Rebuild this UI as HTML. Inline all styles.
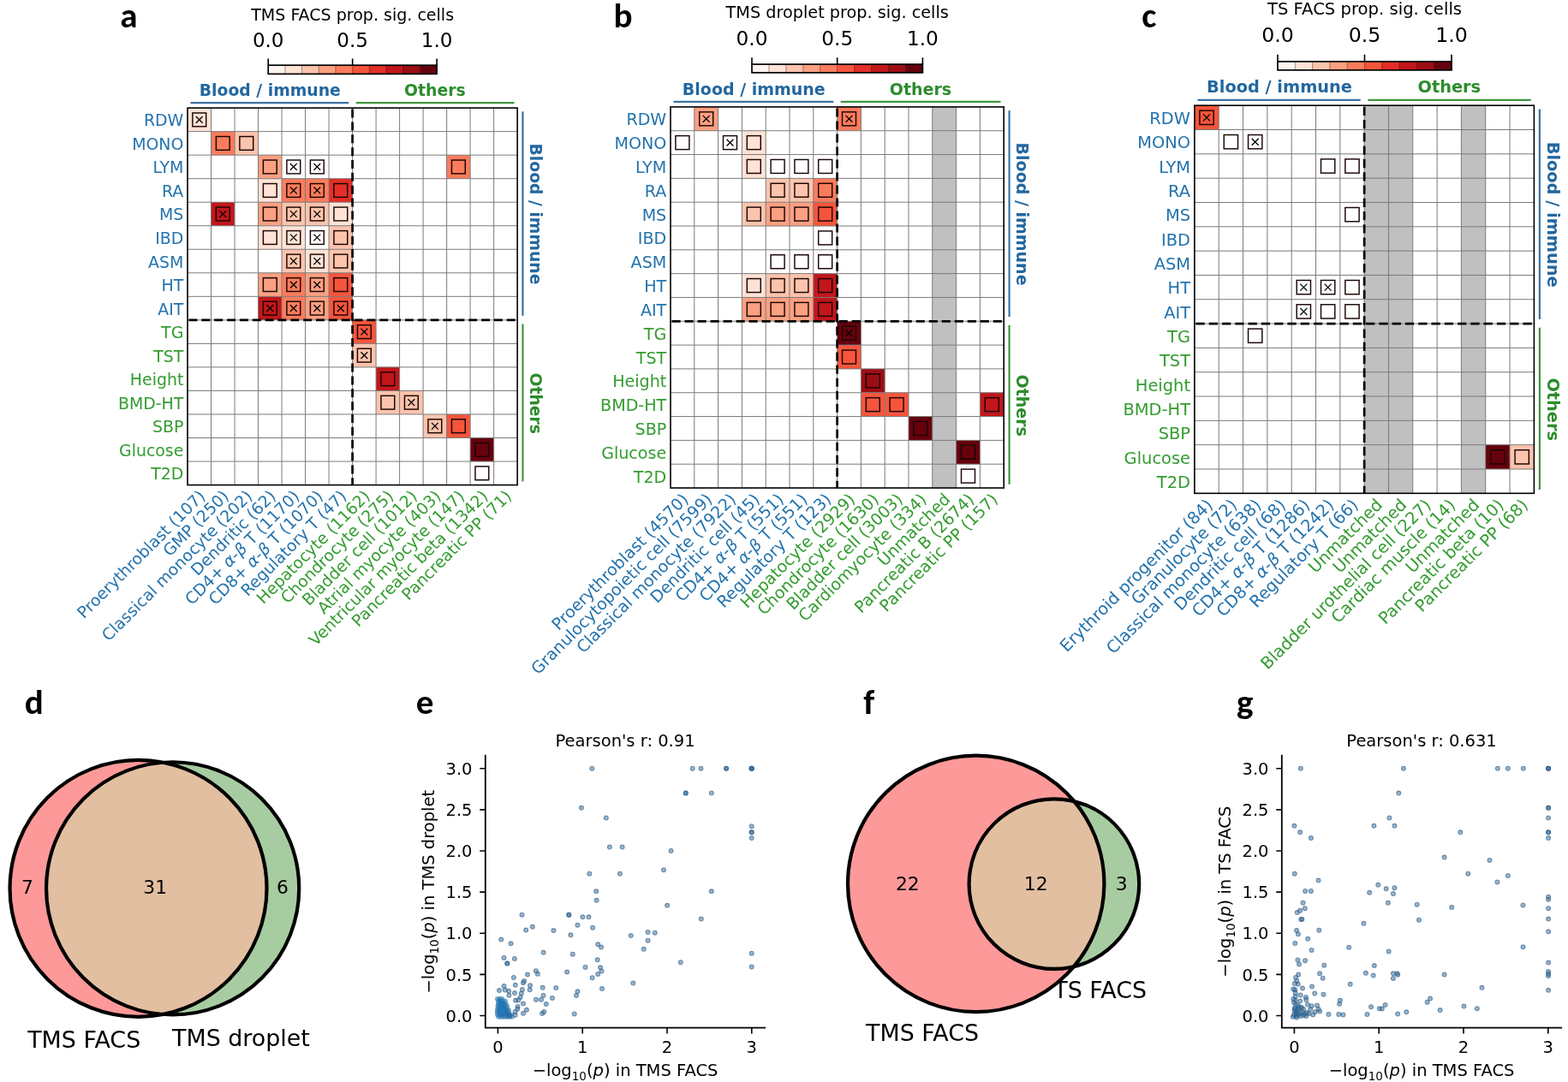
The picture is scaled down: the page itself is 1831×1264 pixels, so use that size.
<!DOCTYPE html>
<html><head><meta charset="utf-8"><style>html,body{margin:0;padding:0;background:#fff;}svg{display:block;}</style></head><body>
<svg width="1831" height="1264" viewBox="0 0 1831 1264" font-family="'DejaVu Sans', 'Liberation Sans', sans-serif">
<rect width="1831" height="1264" fill="#fff"/>
<rect x="219" y="126.1" width="27.51" height="27.53" fill="#fee3d6"/>
<rect x="246.51" y="153.63" width="27.51" height="27.53" fill="#fb7c5c"/>
<rect x="274.02" y="153.63" width="27.51" height="27.53" fill="#fcc4ad"/>
<rect x="301.53" y="181.16" width="27.51" height="27.53" fill="#fca082"/>
<rect x="521.61" y="181.16" width="27.51" height="27.53" fill="#fb7c5c"/>
<rect x="301.53" y="208.69" width="27.51" height="27.53" fill="#fee3d6"/>
<rect x="329.04" y="208.69" width="27.51" height="27.53" fill="#fb7c5c"/>
<rect x="356.55" y="208.69" width="27.51" height="27.53" fill="#fb7c5c"/>
<rect x="384.06" y="208.69" width="27.51" height="27.53" fill="#e32f27"/>
<rect x="246.51" y="236.22" width="27.51" height="27.53" fill="#c2161b"/>
<rect x="301.53" y="236.22" width="27.51" height="27.53" fill="#fca082"/>
<rect x="329.04" y="236.22" width="27.51" height="27.53" fill="#fcc4ad"/>
<rect x="356.55" y="236.22" width="27.51" height="27.53" fill="#fcc4ad"/>
<rect x="384.06" y="236.22" width="27.51" height="27.53" fill="#fee3d6"/>
<rect x="301.53" y="263.75" width="27.51" height="27.53" fill="#fee3d6"/>
<rect x="329.04" y="263.75" width="27.51" height="27.53" fill="#fee3d6"/>
<rect x="384.06" y="263.75" width="27.51" height="27.53" fill="#fcc4ad"/>
<rect x="329.04" y="291.28" width="27.51" height="27.53" fill="#fcc4ad"/>
<rect x="356.55" y="291.28" width="27.51" height="27.53" fill="#fee3d6"/>
<rect x="384.06" y="291.28" width="27.51" height="27.53" fill="#fcc4ad"/>
<rect x="301.53" y="318.81" width="27.51" height="27.53" fill="#fca082"/>
<rect x="329.04" y="318.81" width="27.51" height="27.53" fill="#fb7c5c"/>
<rect x="356.55" y="318.81" width="27.51" height="27.53" fill="#fca082"/>
<rect x="384.06" y="318.81" width="27.51" height="27.53" fill="#f6553c"/>
<rect x="301.53" y="346.34" width="27.51" height="27.53" fill="#c2161b"/>
<rect x="329.04" y="346.34" width="27.51" height="27.53" fill="#fb7c5c"/>
<rect x="356.55" y="346.34" width="27.51" height="27.53" fill="#fca082"/>
<rect x="384.06" y="346.34" width="27.51" height="27.53" fill="#f6553c"/>
<rect x="411.57" y="373.87" width="27.51" height="27.53" fill="#f6553c"/>
<rect x="411.57" y="401.4" width="27.51" height="27.53" fill="#fcc4ad"/>
<rect x="439.08" y="428.93" width="27.51" height="27.53" fill="#c2161b"/>
<rect x="439.08" y="456.46" width="27.51" height="27.53" fill="#fcc4ad"/>
<rect x="466.59" y="456.46" width="27.51" height="27.53" fill="#fcc4ad"/>
<rect x="494.1" y="483.99" width="27.51" height="27.53" fill="#fcc4ad"/>
<rect x="521.61" y="483.99" width="27.51" height="27.53" fill="#f6553c"/>
<rect x="549.12" y="511.52" width="27.51" height="27.53" fill="#67000d"/>
<path d="M246.51 126.1V566.58M274.02 126.1V566.58M301.53 126.1V566.58M329.04 126.1V566.58M356.55 126.1V566.58M384.06 126.1V566.58M411.57 126.1V566.58M439.08 126.1V566.58M466.59 126.1V566.58M494.1 126.1V566.58M521.61 126.1V566.58M549.12 126.1V566.58M576.63 126.1V566.58M219 153.63H604.14M219 181.16H604.14M219 208.69H604.14M219 236.22H604.14M219 263.75H604.14M219 291.28H604.14M219 318.81H604.14M219 346.34H604.14M219 373.87H604.14M219 401.4H604.14M219 428.93H604.14M219 456.46H604.14M219 483.99H604.14M219 511.52H604.14M219 539.05H604.14" stroke="#7a7a7a" stroke-width="1" fill="none"/>
<rect x="224.85" y="131.96" width="15.82" height="15.82" fill="#fee3d6" stroke="#1a0505" stroke-width="1.45"/>
<path d="M228.85 135.97L236.66 143.77M228.85 143.77L236.66 135.97" stroke="#000" stroke-width="1.3"/>
<rect x="252.36" y="159.49" width="15.82" height="15.82" fill="#fb7c5c" stroke="#1a0505" stroke-width="1.45"/>
<rect x="279.87" y="159.49" width="15.82" height="15.82" fill="#fcc4ad" stroke="#1a0505" stroke-width="1.45"/>
<rect x="307.38" y="187.02" width="15.82" height="15.82" fill="#fca082" stroke="#1a0505" stroke-width="1.45"/>
<rect x="334.89" y="187.02" width="15.82" height="15.82" fill="#ffffff" stroke="#1a0505" stroke-width="1.45"/>
<path d="M338.9 191.03L346.69 198.83M338.9 198.83L346.69 191.03" stroke="#000" stroke-width="1.3"/>
<rect x="362.4" y="187.02" width="15.82" height="15.82" fill="#ffffff" stroke="#1a0505" stroke-width="1.45"/>
<path d="M366.41 191.03L374.2 198.83M366.41 198.83L374.2 191.03" stroke="#000" stroke-width="1.3"/>
<rect x="527.46" y="187.02" width="15.82" height="15.82" fill="#fb7c5c" stroke="#1a0505" stroke-width="1.45"/>
<rect x="307.38" y="214.55" width="15.82" height="15.82" fill="#fee3d6" stroke="#1a0505" stroke-width="1.45"/>
<rect x="334.89" y="214.55" width="15.82" height="15.82" fill="#fb7c5c" stroke="#1a0505" stroke-width="1.45"/>
<path d="M338.9 218.55L346.69 226.35M338.9 226.35L346.69 218.55" stroke="#000" stroke-width="1.3"/>
<rect x="362.4" y="214.55" width="15.82" height="15.82" fill="#fb7c5c" stroke="#1a0505" stroke-width="1.45"/>
<path d="M366.41 218.55L374.2 226.35M366.41 226.35L374.2 218.55" stroke="#000" stroke-width="1.3"/>
<rect x="389.91" y="214.55" width="15.82" height="15.82" fill="#e32f27" stroke="#1a0505" stroke-width="1.45"/>
<rect x="252.36" y="242.08" width="15.82" height="15.82" fill="#c2161b" stroke="#1a0505" stroke-width="1.45"/>
<path d="M256.37 246.09L264.16 253.89M256.37 253.89L264.16 246.09" stroke="#000" stroke-width="1.3"/>
<rect x="307.38" y="242.08" width="15.82" height="15.82" fill="#fca082" stroke="#1a0505" stroke-width="1.45"/>
<rect x="334.89" y="242.08" width="15.82" height="15.82" fill="#fcc4ad" stroke="#1a0505" stroke-width="1.45"/>
<path d="M338.9 246.09L346.69 253.89M338.9 253.89L346.69 246.09" stroke="#000" stroke-width="1.3"/>
<rect x="362.4" y="242.08" width="15.82" height="15.82" fill="#fcc4ad" stroke="#1a0505" stroke-width="1.45"/>
<path d="M366.41 246.09L374.2 253.89M366.41 253.89L374.2 246.09" stroke="#000" stroke-width="1.3"/>
<rect x="389.91" y="242.08" width="15.82" height="15.82" fill="#fee3d6" stroke="#1a0505" stroke-width="1.45"/>
<rect x="307.38" y="269.61" width="15.82" height="15.82" fill="#fee3d6" stroke="#1a0505" stroke-width="1.45"/>
<rect x="334.89" y="269.61" width="15.82" height="15.82" fill="#fee3d6" stroke="#1a0505" stroke-width="1.45"/>
<path d="M338.9 273.62L346.69 281.41M338.9 281.41L346.69 273.62" stroke="#000" stroke-width="1.3"/>
<rect x="362.4" y="269.61" width="15.82" height="15.82" fill="#ffffff" stroke="#1a0505" stroke-width="1.45"/>
<path d="M366.41 273.62L374.2 281.41M366.41 281.41L374.2 273.62" stroke="#000" stroke-width="1.3"/>
<rect x="389.91" y="269.61" width="15.82" height="15.82" fill="#fcc4ad" stroke="#1a0505" stroke-width="1.45"/>
<rect x="334.89" y="297.14" width="15.82" height="15.82" fill="#fcc4ad" stroke="#1a0505" stroke-width="1.45"/>
<path d="M338.9 301.14L346.69 308.94M338.9 308.94L346.69 301.14" stroke="#000" stroke-width="1.3"/>
<rect x="362.4" y="297.14" width="15.82" height="15.82" fill="#fee3d6" stroke="#1a0505" stroke-width="1.45"/>
<path d="M366.41 301.14L374.2 308.94M366.41 308.94L374.2 301.14" stroke="#000" stroke-width="1.3"/>
<rect x="389.91" y="297.14" width="15.82" height="15.82" fill="#fcc4ad" stroke="#1a0505" stroke-width="1.45"/>
<rect x="307.38" y="324.67" width="15.82" height="15.82" fill="#fca082" stroke="#1a0505" stroke-width="1.45"/>
<rect x="334.89" y="324.67" width="15.82" height="15.82" fill="#fb7c5c" stroke="#1a0505" stroke-width="1.45"/>
<path d="M338.9 328.68L346.69 336.48M338.9 336.48L346.69 328.68" stroke="#000" stroke-width="1.3"/>
<rect x="362.4" y="324.67" width="15.82" height="15.82" fill="#fca082" stroke="#1a0505" stroke-width="1.45"/>
<path d="M366.41 328.68L374.2 336.48M366.41 336.48L374.2 328.68" stroke="#000" stroke-width="1.3"/>
<rect x="389.91" y="324.67" width="15.82" height="15.82" fill="#f6553c" stroke="#1a0505" stroke-width="1.45"/>
<rect x="307.38" y="352.2" width="15.82" height="15.82" fill="#c2161b" stroke="#1a0505" stroke-width="1.45"/>
<path d="M311.39 356.21L319.19 364M311.39 364L319.19 356.21" stroke="#000" stroke-width="1.3"/>
<rect x="334.89" y="352.2" width="15.82" height="15.82" fill="#fb7c5c" stroke="#1a0505" stroke-width="1.45"/>
<path d="M338.9 356.21L346.69 364M338.9 364L346.69 356.21" stroke="#000" stroke-width="1.3"/>
<rect x="362.4" y="352.2" width="15.82" height="15.82" fill="#fca082" stroke="#1a0505" stroke-width="1.45"/>
<path d="M366.41 356.21L374.2 364M366.41 364L374.2 356.21" stroke="#000" stroke-width="1.3"/>
<rect x="389.91" y="352.2" width="15.82" height="15.82" fill="#f6553c" stroke="#1a0505" stroke-width="1.45"/>
<path d="M393.92 356.21L401.71 364M393.92 364L401.71 356.21" stroke="#000" stroke-width="1.3"/>
<rect x="417.42" y="379.73" width="15.82" height="15.82" fill="#f6553c" stroke="#1a0505" stroke-width="1.45"/>
<path d="M421.43 383.74L429.23 391.53M421.43 391.53L429.23 383.74" stroke="#000" stroke-width="1.3"/>
<rect x="417.42" y="407.26" width="15.82" height="15.82" fill="#fcc4ad" stroke="#1a0505" stroke-width="1.45"/>
<path d="M421.43 411.26L429.23 419.06M421.43 419.06L429.23 411.26" stroke="#000" stroke-width="1.3"/>
<rect x="444.93" y="434.79" width="15.82" height="15.82" fill="#c2161b" stroke="#1a0505" stroke-width="1.45"/>
<rect x="444.93" y="462.32" width="15.82" height="15.82" fill="#fcc4ad" stroke="#1a0505" stroke-width="1.45"/>
<rect x="472.44" y="462.32" width="15.82" height="15.82" fill="#fcc4ad" stroke="#1a0505" stroke-width="1.45"/>
<path d="M476.45 466.33L484.25 474.12M476.45 474.12L484.25 466.33" stroke="#000" stroke-width="1.3"/>
<rect x="499.95" y="489.85" width="15.82" height="15.82" fill="#fcc4ad" stroke="#1a0505" stroke-width="1.45"/>
<path d="M503.96 493.86L511.75 501.65M503.96 501.65L511.75 493.86" stroke="#000" stroke-width="1.3"/>
<rect x="527.46" y="489.85" width="15.82" height="15.82" fill="#f6553c" stroke="#1a0505" stroke-width="1.45"/>
<rect x="554.97" y="517.38" width="15.82" height="15.82" fill="#67000d" stroke="#1a0505" stroke-width="1.45"/>
<rect x="554.97" y="544.91" width="15.82" height="15.82" fill="#ffffff" stroke="#1a0505" stroke-width="1.45"/>
<path d="M411.57 126.1V566.58M219 373.87H604.14" stroke="#000" stroke-width="2.7" stroke-dasharray="10 4.85" stroke-dashoffset="-1.5" fill="none"/>
<rect x="219" y="126.1" width="385.14" height="440.48" fill="none" stroke="#000" stroke-width="1.6"/>
<text x="214.3" y="147.37" font-size="18.9" fill="#2473ae" text-anchor="end">RDW</text>
<text x="214.3" y="174.89" font-size="18.9" fill="#2473ae" text-anchor="end">MONO</text>
<text x="214.3" y="202.43" font-size="18.9" fill="#2473ae" text-anchor="end">LYM</text>
<text x="214.3" y="229.95" font-size="18.9" fill="#2473ae" text-anchor="end">RA</text>
<text x="214.3" y="257.49" font-size="18.9" fill="#2473ae" text-anchor="end">MS</text>
<text x="214.3" y="285.01" font-size="18.9" fill="#2473ae" text-anchor="end">IBD</text>
<text x="214.3" y="312.54" font-size="18.9" fill="#2473ae" text-anchor="end">ASM</text>
<text x="214.3" y="340.08" font-size="18.9" fill="#2473ae" text-anchor="end">HT</text>
<text x="214.3" y="367.61" font-size="18.9" fill="#2473ae" text-anchor="end">AIT</text>
<text x="214.3" y="395.13" font-size="18.9" fill="#339c30" text-anchor="end">TG</text>
<text x="214.3" y="422.66" font-size="18.9" fill="#339c30" text-anchor="end">TST</text>
<text x="214.3" y="450.2" font-size="18.9" fill="#339c30" text-anchor="end">Height</text>
<text x="214.3" y="477.73" font-size="18.9" fill="#339c30" text-anchor="end">BMD-HT</text>
<text x="214.3" y="505.25" font-size="18.9" fill="#339c30" text-anchor="end">SBP</text>
<text x="214.3" y="532.78" font-size="18.9" fill="#339c30" text-anchor="end">Glucose</text>
<text x="214.3" y="560.32" font-size="18.9" fill="#339c30" text-anchor="end">T2D</text>
<text x="240.75" y="580.88" font-size="18.9" fill="#2473ae" text-anchor="end" transform="rotate(-45 240.75 580.88)">Proerythroblast (107)</text>
<text x="268.26" y="580.88" font-size="18.9" fill="#2473ae" text-anchor="end" transform="rotate(-45 268.26 580.88)">GMP (250)</text>
<text x="295.77" y="580.88" font-size="18.9" fill="#2473ae" text-anchor="end" transform="rotate(-45 295.77 580.88)">Classical monocyte (202)</text>
<text x="323.29" y="580.88" font-size="18.9" fill="#2473ae" text-anchor="end" transform="rotate(-45 323.29 580.88)">Dendritic (62)</text>
<text x="350.8" y="580.88" font-size="18.9" fill="#2473ae" text-anchor="end" transform="rotate(-45 350.8 580.88)">CD4+ <tspan font-style="italic">α</tspan>-<tspan font-style="italic">β</tspan> T (1170)</text>
<text x="378.31" y="580.88" font-size="18.9" fill="#2473ae" text-anchor="end" transform="rotate(-45 378.31 580.88)">CD8+ <tspan font-style="italic">α</tspan>-<tspan font-style="italic">β</tspan> T (1070)</text>
<text x="405.81" y="580.88" font-size="18.9" fill="#2473ae" text-anchor="end" transform="rotate(-45 405.81 580.88)">Regulatory T (47)</text>
<text x="433.33" y="580.88" font-size="18.9" fill="#339c30" text-anchor="end" transform="rotate(-45 433.33 580.88)">Hepatocyte (1162)</text>
<text x="460.84" y="580.88" font-size="18.9" fill="#339c30" text-anchor="end" transform="rotate(-45 460.84 580.88)">Chondrocyte (275)</text>
<text x="488.35" y="580.88" font-size="18.9" fill="#339c30" text-anchor="end" transform="rotate(-45 488.35 580.88)">Bladder cell (1012)</text>
<text x="515.86" y="580.88" font-size="18.9" fill="#339c30" text-anchor="end" transform="rotate(-45 515.86 580.88)">Atrial myocyte (403)</text>
<text x="543.37" y="580.88" font-size="18.9" fill="#339c30" text-anchor="end" transform="rotate(-45 543.37 580.88)">Ventricular myocyte (147)</text>
<text x="570.88" y="580.88" font-size="18.9" fill="#339c30" text-anchor="end" transform="rotate(-45 570.88 580.88)">Pancreatic beta (1342)</text>
<text x="598.38" y="580.88" font-size="18.9" fill="#339c30" text-anchor="end" transform="rotate(-45 598.38 580.88)">Pancreatic PP (71)</text>
<text x="315.29" y="112" font-size="18.8" fill="#23679f" text-anchor="middle" font-weight="bold">Blood / immune</text>
<text x="507.86" y="112" font-size="18.8" fill="#2c8c2c" text-anchor="middle" font-weight="bold">Others</text>
<path d="M222.5 120.2H407.27" stroke="#3a72a2" stroke-width="2.2"/>
<path d="M415.67 120.2H600.54" stroke="#3f963f" stroke-width="2.2"/>
<path d="M610.44 130.3V368.87" stroke="#3a72a2" stroke-width="2.2"/>
<path d="M610.44 378.37V562.38" stroke="#3f963f" stroke-width="2.2"/>
<text x="618.84" y="249.99" font-size="18.8" fill="#23679f" text-anchor="middle" font-weight="bold" transform="rotate(90 618.84 249.99)">Blood / immune</text>
<text x="618.84" y="471.23" font-size="18.8" fill="#2c8c2c" text-anchor="middle" font-weight="bold" transform="rotate(90 618.84 471.23)">Others</text>
<rect x="313.2" y="76.2" width="19.99" height="10.2" fill="#fff5f0"/>
<rect x="332.89" y="76.2" width="19.99" height="10.2" fill="#fee3d6"/>
<rect x="352.58" y="76.2" width="19.99" height="10.2" fill="#fcc4ad"/>
<rect x="372.27" y="76.2" width="19.99" height="10.2" fill="#fca082"/>
<rect x="391.96" y="76.2" width="19.99" height="10.2" fill="#fb7c5c"/>
<rect x="411.65" y="76.2" width="19.99" height="10.2" fill="#f6553c"/>
<rect x="431.34" y="76.2" width="19.99" height="10.2" fill="#e32f27"/>
<rect x="451.03" y="76.2" width="19.99" height="10.2" fill="#c2161b"/>
<rect x="470.72" y="76.2" width="19.99" height="10.2" fill="#9d0d14"/>
<rect x="490.41" y="76.2" width="19.99" height="10.2" fill="#67000d"/>
<path d="M332.89 76.2V86.4M352.58 76.2V86.4M372.27 76.2V86.4M391.96 76.2V86.4M411.65 76.2V86.4M431.34 76.2V86.4M451.03 76.2V86.4M470.72 76.2V86.4M490.41 76.2V86.4" stroke="#000" stroke-width="0.7" stroke-opacity="0.55"/>
<rect x="313.2" y="76.2" width="196.9" height="10.2" fill="none" stroke="#000" stroke-width="1.7"/>
<path d="M313.2 76.2V68.4M411.65 76.2V68.4M510.1 76.2V68.4" stroke="#000" stroke-width="1.6"/>
<text x="313.2" y="55.3" font-size="23" fill="#000" text-anchor="middle">0.0</text>
<text x="411.65" y="55.3" font-size="23" fill="#000" text-anchor="middle">0.5</text>
<text x="510.1" y="55.3" font-size="23" fill="#000" text-anchor="middle">1.0</text>
<text x="411.65" y="24.1" font-size="19.05" fill="#000" text-anchor="middle">TMS FACS prop. sig. cells</text>
<rect x="1088.8" y="124.9" width="27.8" height="445.12" fill="#c0c0c0"/>
<rect x="810.8" y="124.9" width="27.8" height="27.82" fill="#fca082"/>
<rect x="977.6" y="124.9" width="27.8" height="27.82" fill="#fb7c5c"/>
<rect x="866.4" y="152.72" width="27.8" height="27.82" fill="#fee3d6"/>
<rect x="866.4" y="180.54" width="27.8" height="27.82" fill="#fee3d6"/>
<rect x="894.2" y="208.36" width="27.8" height="27.82" fill="#fcc4ad"/>
<rect x="922" y="208.36" width="27.8" height="27.82" fill="#fcc4ad"/>
<rect x="949.8" y="208.36" width="27.8" height="27.82" fill="#fb7c5c"/>
<rect x="866.4" y="236.18" width="27.8" height="27.82" fill="#fcc4ad"/>
<rect x="894.2" y="236.18" width="27.8" height="27.82" fill="#fca082"/>
<rect x="922" y="236.18" width="27.8" height="27.82" fill="#fca082"/>
<rect x="949.8" y="236.18" width="27.8" height="27.82" fill="#f6553c"/>
<rect x="866.4" y="319.64" width="27.8" height="27.82" fill="#fee3d6"/>
<rect x="894.2" y="319.64" width="27.8" height="27.82" fill="#fcc4ad"/>
<rect x="922" y="319.64" width="27.8" height="27.82" fill="#fcc4ad"/>
<rect x="949.8" y="319.64" width="27.8" height="27.82" fill="#c2161b"/>
<rect x="866.4" y="347.46" width="27.8" height="27.82" fill="#fca082"/>
<rect x="894.2" y="347.46" width="27.8" height="27.82" fill="#fca082"/>
<rect x="922" y="347.46" width="27.8" height="27.82" fill="#fca082"/>
<rect x="949.8" y="347.46" width="27.8" height="27.82" fill="#c2161b"/>
<rect x="977.6" y="375.28" width="27.8" height="27.82" fill="#67000d"/>
<rect x="977.6" y="403.1" width="27.8" height="27.82" fill="#f6553c"/>
<rect x="1005.4" y="430.92" width="27.8" height="27.82" fill="#9d0d14"/>
<rect x="1005.4" y="458.74" width="27.8" height="27.82" fill="#f6553c"/>
<rect x="1033.2" y="458.74" width="27.8" height="27.82" fill="#f6553c"/>
<rect x="1144.4" y="458.74" width="27.8" height="27.82" fill="#c2161b"/>
<rect x="1061" y="486.56" width="27.8" height="27.82" fill="#67000d"/>
<rect x="1116.6" y="514.38" width="27.8" height="27.82" fill="#67000d"/>
<path d="M810.8 124.9V570.02M838.6 124.9V570.02M866.4 124.9V570.02M894.2 124.9V570.02M922 124.9V570.02M949.8 124.9V570.02M977.6 124.9V570.02M1005.4 124.9V570.02M1033.2 124.9V570.02M1061 124.9V570.02M1088.8 124.9V570.02M1116.6 124.9V570.02M1144.4 124.9V570.02M783 152.72H1172.2M783 180.54H1172.2M783 208.36H1172.2M783 236.18H1172.2M783 264H1172.2M783 291.82H1172.2M783 319.64H1172.2M783 347.46H1172.2M783 375.28H1172.2M783 403.1H1172.2M783 430.92H1172.2M783 458.74H1172.2M783 486.56H1172.2M783 514.38H1172.2M783 542.2H1172.2" stroke="#7a7a7a" stroke-width="1" fill="none"/>
<rect x="816.71" y="130.82" width="15.98" height="15.98" fill="#fca082" stroke="#1a0505" stroke-width="1.45"/>
<path d="M820.76 134.87L828.64 142.75M820.76 142.75L828.64 134.87" stroke="#000" stroke-width="1.3"/>
<rect x="983.51" y="130.82" width="15.98" height="15.98" fill="#fb7c5c" stroke="#1a0505" stroke-width="1.45"/>
<path d="M987.56 134.87L995.44 142.75M987.56 142.75L995.44 134.87" stroke="#000" stroke-width="1.3"/>
<rect x="788.91" y="158.64" width="15.98" height="15.98" fill="#ffffff" stroke="#1a0505" stroke-width="1.45"/>
<rect x="844.51" y="158.64" width="15.98" height="15.98" fill="#ffffff" stroke="#1a0505" stroke-width="1.45"/>
<path d="M848.56 162.69L856.44 170.57M848.56 170.57L856.44 162.69" stroke="#000" stroke-width="1.3"/>
<rect x="872.31" y="158.64" width="15.98" height="15.98" fill="#fee3d6" stroke="#1a0505" stroke-width="1.45"/>
<rect x="872.31" y="186.46" width="15.98" height="15.98" fill="#fee3d6" stroke="#1a0505" stroke-width="1.45"/>
<rect x="900.11" y="186.46" width="15.98" height="15.98" fill="#ffffff" stroke="#1a0505" stroke-width="1.45"/>
<rect x="927.91" y="186.46" width="15.98" height="15.98" fill="#ffffff" stroke="#1a0505" stroke-width="1.45"/>
<rect x="955.71" y="186.46" width="15.98" height="15.98" fill="#ffffff" stroke="#1a0505" stroke-width="1.45"/>
<rect x="900.11" y="214.28" width="15.98" height="15.98" fill="#fcc4ad" stroke="#1a0505" stroke-width="1.45"/>
<rect x="927.91" y="214.28" width="15.98" height="15.98" fill="#fcc4ad" stroke="#1a0505" stroke-width="1.45"/>
<rect x="955.71" y="214.28" width="15.98" height="15.98" fill="#fb7c5c" stroke="#1a0505" stroke-width="1.45"/>
<rect x="872.31" y="242.1" width="15.98" height="15.98" fill="#fcc4ad" stroke="#1a0505" stroke-width="1.45"/>
<rect x="900.11" y="242.1" width="15.98" height="15.98" fill="#fca082" stroke="#1a0505" stroke-width="1.45"/>
<rect x="927.91" y="242.1" width="15.98" height="15.98" fill="#fca082" stroke="#1a0505" stroke-width="1.45"/>
<rect x="955.71" y="242.1" width="15.98" height="15.98" fill="#f6553c" stroke="#1a0505" stroke-width="1.45"/>
<rect x="955.71" y="269.92" width="15.98" height="15.98" fill="#ffffff" stroke="#1a0505" stroke-width="1.45"/>
<rect x="900.11" y="297.74" width="15.98" height="15.98" fill="#ffffff" stroke="#1a0505" stroke-width="1.45"/>
<rect x="927.91" y="297.74" width="15.98" height="15.98" fill="#ffffff" stroke="#1a0505" stroke-width="1.45"/>
<rect x="955.71" y="297.74" width="15.98" height="15.98" fill="#ffffff" stroke="#1a0505" stroke-width="1.45"/>
<rect x="872.31" y="325.56" width="15.98" height="15.98" fill="#fee3d6" stroke="#1a0505" stroke-width="1.45"/>
<rect x="900.11" y="325.56" width="15.98" height="15.98" fill="#fcc4ad" stroke="#1a0505" stroke-width="1.45"/>
<rect x="927.91" y="325.56" width="15.98" height="15.98" fill="#fcc4ad" stroke="#1a0505" stroke-width="1.45"/>
<rect x="955.71" y="325.56" width="15.98" height="15.98" fill="#c2161b" stroke="#1a0505" stroke-width="1.45"/>
<rect x="872.31" y="353.38" width="15.98" height="15.98" fill="#fca082" stroke="#1a0505" stroke-width="1.45"/>
<rect x="900.11" y="353.38" width="15.98" height="15.98" fill="#fca082" stroke="#1a0505" stroke-width="1.45"/>
<rect x="927.91" y="353.38" width="15.98" height="15.98" fill="#fca082" stroke="#1a0505" stroke-width="1.45"/>
<rect x="955.71" y="353.38" width="15.98" height="15.98" fill="#c2161b" stroke="#1a0505" stroke-width="1.45"/>
<rect x="983.51" y="381.2" width="15.98" height="15.98" fill="#67000d" stroke="#1a0505" stroke-width="1.45"/>
<path d="M987.56 385.25L995.44 393.13M987.56 393.13L995.44 385.25" stroke="#000" stroke-width="1.3"/>
<rect x="983.51" y="409.02" width="15.98" height="15.98" fill="#f6553c" stroke="#1a0505" stroke-width="1.45"/>
<rect x="1011.31" y="436.84" width="15.98" height="15.98" fill="#9d0d14" stroke="#1a0505" stroke-width="1.45"/>
<rect x="1011.31" y="464.66" width="15.98" height="15.98" fill="#f6553c" stroke="#1a0505" stroke-width="1.45"/>
<rect x="1039.11" y="464.66" width="15.98" height="15.98" fill="#f6553c" stroke="#1a0505" stroke-width="1.45"/>
<rect x="1150.31" y="464.66" width="15.98" height="15.98" fill="#c2161b" stroke="#1a0505" stroke-width="1.45"/>
<rect x="1066.91" y="492.48" width="15.98" height="15.98" fill="#67000d" stroke="#1a0505" stroke-width="1.45"/>
<rect x="1122.51" y="520.3" width="15.98" height="15.98" fill="#67000d" stroke="#1a0505" stroke-width="1.45"/>
<rect x="1122.51" y="548.12" width="15.98" height="15.98" fill="#ffffff" stroke="#1a0505" stroke-width="1.45"/>
<path d="M977.6 124.9V570.02M783 375.28H1172.2" stroke="#000" stroke-width="2.7" stroke-dasharray="10.11 4.9" stroke-dashoffset="-1.52" fill="none"/>
<rect x="783" y="124.9" width="389.2" height="445.12" fill="none" stroke="#000" stroke-width="1.6"/>
<text x="778.25" y="146.39" font-size="19.1" fill="#2473ae" text-anchor="end">RDW</text>
<text x="778.25" y="174.21" font-size="19.1" fill="#2473ae" text-anchor="end">MONO</text>
<text x="778.25" y="202.03" font-size="19.1" fill="#2473ae" text-anchor="end">LYM</text>
<text x="778.25" y="229.85" font-size="19.1" fill="#2473ae" text-anchor="end">RA</text>
<text x="778.25" y="257.67" font-size="19.1" fill="#2473ae" text-anchor="end">MS</text>
<text x="778.25" y="285.49" font-size="19.1" fill="#2473ae" text-anchor="end">IBD</text>
<text x="778.25" y="313.31" font-size="19.1" fill="#2473ae" text-anchor="end">ASM</text>
<text x="778.25" y="341.13" font-size="19.1" fill="#2473ae" text-anchor="end">HT</text>
<text x="778.25" y="368.95" font-size="19.1" fill="#2473ae" text-anchor="end">AIT</text>
<text x="778.25" y="396.77" font-size="19.1" fill="#339c30" text-anchor="end">TG</text>
<text x="778.25" y="424.59" font-size="19.1" fill="#339c30" text-anchor="end">TST</text>
<text x="778.25" y="452.41" font-size="19.1" fill="#339c30" text-anchor="end">Height</text>
<text x="778.25" y="480.23" font-size="19.1" fill="#339c30" text-anchor="end">BMD-HT</text>
<text x="778.25" y="508.05" font-size="19.1" fill="#339c30" text-anchor="end">SBP</text>
<text x="778.25" y="535.87" font-size="19.1" fill="#339c30" text-anchor="end">Glucose</text>
<text x="778.25" y="563.69" font-size="19.1" fill="#339c30" text-anchor="end">T2D</text>
<text x="804.98" y="584.47" font-size="19.1" fill="#2473ae" text-anchor="end" transform="rotate(-45 804.98 584.47)">Proerythroblast (4570)</text>
<text x="832.78" y="584.47" font-size="19.1" fill="#2473ae" text-anchor="end" transform="rotate(-45 832.78 584.47)">Granulocytopoietic cell (7599)</text>
<text x="860.58" y="584.47" font-size="19.1" fill="#2473ae" text-anchor="end" transform="rotate(-45 860.58 584.47)">Classical monocyte (7922)</text>
<text x="888.38" y="584.47" font-size="19.1" fill="#2473ae" text-anchor="end" transform="rotate(-45 888.38 584.47)">Dendritic cell (45)</text>
<text x="916.18" y="584.47" font-size="19.1" fill="#2473ae" text-anchor="end" transform="rotate(-45 916.18 584.47)">CD4+ <tspan font-style="italic">α</tspan>-<tspan font-style="italic">β</tspan> T (551)</text>
<text x="943.98" y="584.47" font-size="19.1" fill="#2473ae" text-anchor="end" transform="rotate(-45 943.98 584.47)">CD4+ <tspan font-style="italic">α</tspan>-<tspan font-style="italic">β</tspan> T (551)</text>
<text x="971.78" y="584.47" font-size="19.1" fill="#2473ae" text-anchor="end" transform="rotate(-45 971.78 584.47)">Regulatory T (123)</text>
<text x="999.58" y="584.47" font-size="19.1" fill="#339c30" text-anchor="end" transform="rotate(-45 999.58 584.47)">Hepatocyte (2929)</text>
<text x="1027.38" y="584.47" font-size="19.1" fill="#339c30" text-anchor="end" transform="rotate(-45 1027.38 584.47)">Chondrocyte (1630)</text>
<text x="1055.18" y="584.47" font-size="19.1" fill="#339c30" text-anchor="end" transform="rotate(-45 1055.18 584.47)">Bladder cell (3003)</text>
<text x="1082.98" y="584.47" font-size="19.1" fill="#339c30" text-anchor="end" transform="rotate(-45 1082.98 584.47)">Cardiomyocyte (334)</text>
<text x="1110.78" y="584.47" font-size="19.1" fill="#339c30" text-anchor="end" transform="rotate(-45 1110.78 584.47)">Unmatched</text>
<text x="1138.58" y="584.47" font-size="19.1" fill="#339c30" text-anchor="end" transform="rotate(-45 1138.58 584.47)">Pancreatic B (2674)</text>
<text x="1166.38" y="584.47" font-size="19.1" fill="#339c30" text-anchor="end" transform="rotate(-45 1166.38 584.47)">Pancreatic PP (157)</text>
<text x="880.3" y="110.6" font-size="19" fill="#23679f" text-anchor="middle" font-weight="bold">Blood / immune</text>
<text x="1074.9" y="110.6" font-size="19" fill="#2c8c2c" text-anchor="middle" font-weight="bold">Others</text>
<path d="M786.54 118.8H973.25" stroke="#3a72a2" stroke-width="2.2"/>
<path d="M981.74 118.8H1168.56" stroke="#3f963f" stroke-width="2.2"/>
<path d="M1178.57 129.14V370.23" stroke="#3a72a2" stroke-width="2.2"/>
<path d="M1178.57 379.83V565.78" stroke="#3f963f" stroke-width="2.2"/>
<text x="1187.05" y="250.09" font-size="19" fill="#23679f" text-anchor="middle" font-weight="bold" transform="rotate(90 1187.05 250.09)">Blood / immune</text>
<text x="1187.05" y="473.66" font-size="19" fill="#2c8c2c" text-anchor="middle" font-weight="bold" transform="rotate(90 1187.05 473.66)">Others</text>
<rect x="878" y="75.1" width="20.24" height="9.8" fill="#fff5f0"/>
<rect x="897.94" y="75.1" width="20.24" height="9.8" fill="#fee3d6"/>
<rect x="917.88" y="75.1" width="20.24" height="9.8" fill="#fcc4ad"/>
<rect x="937.82" y="75.1" width="20.24" height="9.8" fill="#fca082"/>
<rect x="957.76" y="75.1" width="20.24" height="9.8" fill="#fb7c5c"/>
<rect x="977.7" y="75.1" width="20.24" height="9.8" fill="#f6553c"/>
<rect x="997.64" y="75.1" width="20.24" height="9.8" fill="#e32f27"/>
<rect x="1017.58" y="75.1" width="20.24" height="9.8" fill="#c2161b"/>
<rect x="1037.52" y="75.1" width="20.24" height="9.8" fill="#9d0d14"/>
<rect x="1057.46" y="75.1" width="20.24" height="9.8" fill="#67000d"/>
<path d="M897.94 75.1V84.9M917.88 75.1V84.9M937.82 75.1V84.9M957.76 75.1V84.9M977.7 75.1V84.9M997.64 75.1V84.9M1017.58 75.1V84.9M1037.52 75.1V84.9M1057.46 75.1V84.9" stroke="#000" stroke-width="0.7" stroke-opacity="0.55"/>
<rect x="878" y="75.1" width="199.4" height="9.8" fill="none" stroke="#000" stroke-width="1.7"/>
<path d="M878 75.1V67.22M977.7 75.1V67.22M1077.4 75.1V67.22" stroke="#000" stroke-width="1.6"/>
<text x="878" y="53.2" font-size="23.24" fill="#000" text-anchor="middle">0.0</text>
<text x="977.7" y="53.2" font-size="23.24" fill="#000" text-anchor="middle">0.5</text>
<text x="1077.4" y="53.2" font-size="23.24" fill="#000" text-anchor="middle">1.0</text>
<text x="977.7" y="21.3" font-size="19.25" fill="#000" text-anchor="middle">TMS droplet prop. sig. cells</text>
<rect x="1593.14" y="123.2" width="28.32" height="453.12" fill="#c0c0c0"/>
<rect x="1621.46" y="123.2" width="28.32" height="453.12" fill="#c0c0c0"/>
<rect x="1706.42" y="123.2" width="28.32" height="453.12" fill="#c0c0c0"/>
<rect x="1394.9" y="123.2" width="28.32" height="28.32" fill="#f6553c"/>
<rect x="1734.74" y="519.68" width="28.32" height="28.32" fill="#67000d"/>
<rect x="1763.06" y="519.68" width="28.32" height="28.32" fill="#fcc4ad"/>
<path d="M1423.22 123.2V576.32M1451.54 123.2V576.32M1479.86 123.2V576.32M1508.18 123.2V576.32M1536.5 123.2V576.32M1564.82 123.2V576.32M1593.14 123.2V576.32M1621.46 123.2V576.32M1649.78 123.2V576.32M1678.1 123.2V576.32M1706.42 123.2V576.32M1734.74 123.2V576.32M1763.06 123.2V576.32M1394.9 151.52H1791.38M1394.9 179.84H1791.38M1394.9 208.16H1791.38M1394.9 236.48H1791.38M1394.9 264.8H1791.38M1394.9 293.12H1791.38M1394.9 321.44H1791.38M1394.9 349.76H1791.38M1394.9 378.08H1791.38M1394.9 406.4H1791.38M1394.9 434.72H1791.38M1394.9 463.04H1791.38M1394.9 491.36H1791.38M1394.9 519.68H1791.38M1394.9 548H1791.38" stroke="#7a7a7a" stroke-width="1" fill="none"/>
<rect x="1400.92" y="129.22" width="16.28" height="16.28" fill="#f6553c" stroke="#1a0505" stroke-width="1.45"/>
<path d="M1405.05 133.35L1413.07 141.37M1405.05 141.37L1413.07 133.35" stroke="#000" stroke-width="1.3"/>
<rect x="1429.24" y="157.54" width="16.28" height="16.28" fill="#ffffff" stroke="#1a0505" stroke-width="1.45"/>
<rect x="1457.56" y="157.54" width="16.28" height="16.28" fill="#ffffff" stroke="#1a0505" stroke-width="1.45"/>
<path d="M1461.69 161.67L1469.71 169.69M1461.69 169.69L1469.71 161.67" stroke="#000" stroke-width="1.3"/>
<rect x="1542.52" y="185.86" width="16.28" height="16.28" fill="#ffffff" stroke="#1a0505" stroke-width="1.45"/>
<rect x="1570.84" y="185.86" width="16.28" height="16.28" fill="#ffffff" stroke="#1a0505" stroke-width="1.45"/>
<rect x="1570.84" y="242.5" width="16.28" height="16.28" fill="#ffffff" stroke="#1a0505" stroke-width="1.45"/>
<rect x="1514.2" y="327.46" width="16.28" height="16.28" fill="#ffffff" stroke="#1a0505" stroke-width="1.45"/>
<path d="M1518.33 331.59L1526.35 339.61M1518.33 339.61L1526.35 331.59" stroke="#000" stroke-width="1.3"/>
<rect x="1542.52" y="327.46" width="16.28" height="16.28" fill="#ffffff" stroke="#1a0505" stroke-width="1.45"/>
<path d="M1546.65 331.59L1554.67 339.61M1546.65 339.61L1554.67 331.59" stroke="#000" stroke-width="1.3"/>
<rect x="1570.84" y="327.46" width="16.28" height="16.28" fill="#ffffff" stroke="#1a0505" stroke-width="1.45"/>
<rect x="1514.2" y="355.78" width="16.28" height="16.28" fill="#ffffff" stroke="#1a0505" stroke-width="1.45"/>
<path d="M1518.33 359.91L1526.35 367.93M1518.33 367.93L1526.35 359.91" stroke="#000" stroke-width="1.3"/>
<rect x="1542.52" y="355.78" width="16.28" height="16.28" fill="#ffffff" stroke="#1a0505" stroke-width="1.45"/>
<rect x="1570.84" y="355.78" width="16.28" height="16.28" fill="#ffffff" stroke="#1a0505" stroke-width="1.45"/>
<rect x="1457.56" y="384.1" width="16.28" height="16.28" fill="#ffffff" stroke="#1a0505" stroke-width="1.45"/>
<rect x="1740.76" y="525.7" width="16.28" height="16.28" fill="#67000d" stroke="#1a0505" stroke-width="1.45"/>
<rect x="1769.08" y="525.7" width="16.28" height="16.28" fill="#fcc4ad" stroke="#1a0505" stroke-width="1.45"/>
<path d="M1593.14 123.2V576.32M1394.9 378.08H1791.38" stroke="#000" stroke-width="2.7" stroke-dasharray="10.29 4.99" stroke-dashoffset="-1.54" fill="none"/>
<rect x="1394.9" y="123.2" width="396.48" height="453.12" fill="none" stroke="#000" stroke-width="1.6"/>
<text x="1390.06" y="145.08" font-size="19.46" fill="#2473ae" text-anchor="end">RDW</text>
<text x="1390.06" y="173.4" font-size="19.46" fill="#2473ae" text-anchor="end">MONO</text>
<text x="1390.06" y="201.72" font-size="19.46" fill="#2473ae" text-anchor="end">LYM</text>
<text x="1390.06" y="230.04" font-size="19.46" fill="#2473ae" text-anchor="end">RA</text>
<text x="1390.06" y="258.36" font-size="19.46" fill="#2473ae" text-anchor="end">MS</text>
<text x="1390.06" y="286.68" font-size="19.46" fill="#2473ae" text-anchor="end">IBD</text>
<text x="1390.06" y="315" font-size="19.46" fill="#2473ae" text-anchor="end">ASM</text>
<text x="1390.06" y="343.32" font-size="19.46" fill="#2473ae" text-anchor="end">HT</text>
<text x="1390.06" y="371.64" font-size="19.46" fill="#2473ae" text-anchor="end">AIT</text>
<text x="1390.06" y="399.96" font-size="19.46" fill="#339c30" text-anchor="end">TG</text>
<text x="1390.06" y="428.28" font-size="19.46" fill="#339c30" text-anchor="end">TST</text>
<text x="1390.06" y="456.6" font-size="19.46" fill="#339c30" text-anchor="end">Height</text>
<text x="1390.06" y="484.92" font-size="19.46" fill="#339c30" text-anchor="end">BMD-HT</text>
<text x="1390.06" y="513.24" font-size="19.46" fill="#339c30" text-anchor="end">SBP</text>
<text x="1390.06" y="541.56" font-size="19.46" fill="#339c30" text-anchor="end">Glucose</text>
<text x="1390.06" y="569.88" font-size="19.46" fill="#339c30" text-anchor="end">T2D</text>
<text x="1417.3" y="591.04" font-size="19.46" fill="#2473ae" text-anchor="end" transform="rotate(-45 1417.3 591.04)">Erythroid progenitor (84)</text>
<text x="1445.62" y="591.04" font-size="19.46" fill="#2473ae" text-anchor="end" transform="rotate(-45 1445.62 591.04)">Granulocyte (72)</text>
<text x="1473.94" y="591.04" font-size="19.46" fill="#2473ae" text-anchor="end" transform="rotate(-45 1473.94 591.04)">Classical monocyte (638)</text>
<text x="1502.26" y="591.04" font-size="19.46" fill="#2473ae" text-anchor="end" transform="rotate(-45 1502.26 591.04)">Dendritic cell (68)</text>
<text x="1530.58" y="591.04" font-size="19.46" fill="#2473ae" text-anchor="end" transform="rotate(-45 1530.58 591.04)">CD4+ <tspan font-style="italic">α</tspan>-<tspan font-style="italic">β</tspan> T (1286)</text>
<text x="1558.9" y="591.04" font-size="19.46" fill="#2473ae" text-anchor="end" transform="rotate(-45 1558.9 591.04)">CD8+ <tspan font-style="italic">α</tspan>-<tspan font-style="italic">β</tspan> T (1242)</text>
<text x="1587.22" y="591.04" font-size="19.46" fill="#2473ae" text-anchor="end" transform="rotate(-45 1587.22 591.04)">Regulatory T (66)</text>
<text x="1615.54" y="591.04" font-size="19.46" fill="#339c30" text-anchor="end" transform="rotate(-45 1615.54 591.04)">Unmatched</text>
<text x="1643.86" y="591.04" font-size="19.46" fill="#339c30" text-anchor="end" transform="rotate(-45 1643.86 591.04)">Unmatched</text>
<text x="1672.18" y="591.04" font-size="19.46" fill="#339c30" text-anchor="end" transform="rotate(-45 1672.18 591.04)">Bladder urothelial cell (227)</text>
<text x="1700.5" y="591.04" font-size="19.46" fill="#339c30" text-anchor="end" transform="rotate(-45 1700.5 591.04)">Cardiac muscle (14)</text>
<text x="1728.82" y="591.04" font-size="19.46" fill="#339c30" text-anchor="end" transform="rotate(-45 1728.82 591.04)">Unmatched</text>
<text x="1757.14" y="591.04" font-size="19.46" fill="#339c30" text-anchor="end" transform="rotate(-45 1757.14 591.04)">Pancreatic beta (10)</text>
<text x="1785.46" y="591.04" font-size="19.46" fill="#339c30" text-anchor="end" transform="rotate(-45 1785.46 591.04)">Pancreatic PP (68)</text>
<text x="1494.02" y="107.9" font-size="19.35" fill="#23679f" text-anchor="middle" font-weight="bold">Blood / immune</text>
<text x="1692.26" y="107.9" font-size="19.35" fill="#2c8c2c" text-anchor="middle" font-weight="bold">Others</text>
<path d="M1398.5 116.9H1588.71" stroke="#3a72a2" stroke-width="2.2"/>
<path d="M1597.36 116.9H1787.67" stroke="#3f963f" stroke-width="2.2"/>
<path d="M1797.87 127.52V372.93" stroke="#3a72a2" stroke-width="2.2"/>
<path d="M1797.87 382.71V572" stroke="#3f963f" stroke-width="2.2"/>
<text x="1806.51" y="250.64" font-size="19.35" fill="#23679f" text-anchor="middle" font-weight="bold" transform="rotate(90 1806.51 250.64)">Blood / immune</text>
<text x="1806.51" y="478.23" font-size="19.35" fill="#2c8c2c" text-anchor="middle" font-weight="bold" transform="rotate(90 1806.51 478.23)">Others</text>
<rect x="1492" y="71.9" width="20.6" height="10" fill="#fff5f0"/>
<rect x="1512.3" y="71.9" width="20.6" height="10" fill="#fee3d6"/>
<rect x="1532.6" y="71.9" width="20.6" height="10" fill="#fcc4ad"/>
<rect x="1552.9" y="71.9" width="20.6" height="10" fill="#fca082"/>
<rect x="1573.2" y="71.9" width="20.6" height="10" fill="#fb7c5c"/>
<rect x="1593.5" y="71.9" width="20.6" height="10" fill="#f6553c"/>
<rect x="1613.8" y="71.9" width="20.6" height="10" fill="#e32f27"/>
<rect x="1634.1" y="71.9" width="20.6" height="10" fill="#c2161b"/>
<rect x="1654.4" y="71.9" width="20.6" height="10" fill="#9d0d14"/>
<rect x="1674.7" y="71.9" width="20.6" height="10" fill="#67000d"/>
<path d="M1512.3 71.9V81.9M1532.6 71.9V81.9M1552.9 71.9V81.9M1573.2 71.9V81.9M1593.5 71.9V81.9M1613.8 71.9V81.9M1634.1 71.9V81.9M1654.4 71.9V81.9M1674.7 71.9V81.9" stroke="#000" stroke-width="0.7" stroke-opacity="0.55"/>
<rect x="1492" y="71.9" width="203" height="10" fill="none" stroke="#000" stroke-width="1.7"/>
<path d="M1492 71.9V63.87M1593.5 71.9V63.87M1695 71.9V63.87" stroke="#000" stroke-width="1.6"/>
<text x="1492" y="49.3" font-size="23.68" fill="#000" text-anchor="middle">0.0</text>
<text x="1593.5" y="49.3" font-size="23.68" fill="#000" text-anchor="middle">0.5</text>
<text x="1695" y="49.3" font-size="23.68" fill="#000" text-anchor="middle">1.0</text>
<text x="1593.5" y="17.4" font-size="19.61" fill="#000" text-anchor="middle">TS FACS prop. sig. cells</text>
<g fill="#1f77b4" fill-opacity="0.5" stroke="#1f6fae" stroke-opacity="0.5" stroke-width="1.1"><circle cx="580.9" cy="1167" r="2.45"/><circle cx="583.5" cy="1167" r="2.45"/><circle cx="586.1" cy="1167" r="2.45"/><circle cx="582.1" cy="1169.6" r="2.45"/><circle cx="584.7" cy="1169.6" r="2.45"/><circle cx="587.3" cy="1169.6" r="2.45"/><circle cx="589.9" cy="1169.6" r="2.45"/><circle cx="582.1" cy="1172.2" r="2.45"/><circle cx="584.7" cy="1172.2" r="2.45"/><circle cx="587.3" cy="1172.2" r="2.45"/><circle cx="589.9" cy="1172.2" r="2.45"/><circle cx="581.5" cy="1174.8" r="2.45"/><circle cx="584.1" cy="1174.8" r="2.45"/><circle cx="586.7" cy="1174.8" r="2.45"/><circle cx="589.3" cy="1174.8" r="2.45"/><circle cx="591.9" cy="1174.8" r="2.45"/><circle cx="581.5" cy="1177.4" r="2.45"/><circle cx="584.1" cy="1177.4" r="2.45"/><circle cx="586.7" cy="1177.4" r="2.45"/><circle cx="589.3" cy="1177.4" r="2.45"/><circle cx="591.9" cy="1177.4" r="2.45"/><circle cx="580.9" cy="1180" r="2.45"/><circle cx="583.5" cy="1180" r="2.45"/><circle cx="586.1" cy="1180" r="2.45"/><circle cx="588.7" cy="1180" r="2.45"/><circle cx="591.3" cy="1180" r="2.45"/><circle cx="593.9" cy="1180" r="2.45"/><circle cx="580.9" cy="1182.6" r="2.45"/><circle cx="583.5" cy="1182.6" r="2.45"/><circle cx="586.1" cy="1182.6" r="2.45"/><circle cx="588.7" cy="1182.6" r="2.45"/><circle cx="591.3" cy="1182.6" r="2.45"/><circle cx="593.9" cy="1182.6" r="2.45"/><circle cx="580.9" cy="1185.2" r="2.45"/><circle cx="583.5" cy="1185.2" r="2.45"/><circle cx="586.1" cy="1185.2" r="2.45"/><circle cx="588.7" cy="1185.2" r="2.45"/><circle cx="591.3" cy="1185.2" r="2.45"/><circle cx="593.9" cy="1185.2" r="2.45"/><circle cx="596.5" cy="1185.2" r="2.45"/><circle cx="582.1" cy="1187.8" r="2.45"/><circle cx="584.7" cy="1187.8" r="2.45"/><circle cx="587.3" cy="1187.8" r="2.45"/><circle cx="589.9" cy="1187.8" r="2.45"/><circle cx="592.5" cy="1187.8" r="2.45"/><circle cx="595.1" cy="1187.8" r="2.45"/><circle cx="597.7" cy="1187.8" r="2.45"/></g>
<g fill="#2a70a8" fill-opacity="0.5" stroke="#34587c" stroke-opacity="0.62" stroke-width="1.1"><circle cx="691.3" cy="897.7" r="2.45"/><circle cx="808.7" cy="897.7" r="2.45"/><circle cx="818.5" cy="897.7" r="2.45"/><circle cx="848.1" cy="897.7" r="2.45"/><circle cx="848.1" cy="897.7" r="2.45"/><circle cx="877.7" cy="897.7" r="2.45"/><circle cx="877.7" cy="897.7" r="2.45"/><circle cx="877.7" cy="897.7" r="2.45"/><circle cx="877.7" cy="897.7" r="2.45"/><circle cx="800.8" cy="926.5" r="2.45"/><circle cx="800.8" cy="926.5" r="2.45"/><circle cx="830.8" cy="926.5" r="2.45"/><circle cx="678.9" cy="943.8" r="2.45"/><circle cx="707.8" cy="955.4" r="2.45"/><circle cx="877.7" cy="965.2" r="2.45"/><circle cx="877.7" cy="972.3" r="2.45"/><circle cx="877.7" cy="972.3" r="2.45"/><circle cx="877.7" cy="979" r="2.45"/><circle cx="711.9" cy="989.6" r="2.45"/><circle cx="726.6" cy="989.6" r="2.45"/><circle cx="783.6" cy="994" r="2.45"/><circle cx="688.3" cy="1020.7" r="2.45"/><circle cx="723.9" cy="1020.7" r="2.45"/><circle cx="775" cy="1016.2" r="2.45"/><circle cx="696.2" cy="1041.3" r="2.45"/><circle cx="830.8" cy="1041.3" r="2.45"/><circle cx="696.6" cy="1051.8" r="2.45"/><circle cx="779.1" cy="1057.8" r="2.45"/><circle cx="609.5" cy="1068.7" r="2.45"/><circle cx="664.3" cy="1068.7" r="2.45"/><circle cx="664.3" cy="1068.7" r="2.45"/><circle cx="680.4" cy="1071.3" r="2.45"/><circle cx="687.5" cy="1071.3" r="2.45"/><circle cx="674.4" cy="1080.7" r="2.45"/><circle cx="692.1" cy="1083.7" r="2.45"/><circle cx="818.8" cy="1073.6" r="2.45"/><circle cx="736.7" cy="1093.1" r="2.45"/><circle cx="756.6" cy="1088.9" r="2.45"/><circle cx="764.8" cy="1089.7" r="2.45"/><circle cx="756.6" cy="1098.7" r="2.45"/><circle cx="751.7" cy="1108.8" r="2.45"/><circle cx="877.7" cy="1113.7" r="2.45"/><circle cx="794.8" cy="1124.2" r="2.45"/><circle cx="877.7" cy="1129.5" r="2.45"/><circle cx="739.3" cy="1148.6" r="2.45"/><circle cx="621.8" cy="1082.8" r="2.45"/><circle cx="614.2" cy="1086.6" r="2.45"/><circle cx="646.4" cy="1087.1" r="2.45"/><circle cx="666.4" cy="1092.3" r="2.45"/><circle cx="585.2" cy="1097.6" r="2.45"/><circle cx="596.6" cy="1102.3" r="2.45"/><circle cx="698.2" cy="1103.3" r="2.45"/><circle cx="702" cy="1106.6" r="2.45"/><circle cx="634.6" cy="1112.8" r="2.45"/><circle cx="668.8" cy="1114.7" r="2.45"/><circle cx="588.5" cy="1118.9" r="2.45"/><circle cx="600.9" cy="1119.9" r="2.45"/><circle cx="592.3" cy="1125.6" r="2.45"/><circle cx="592.3" cy="1125.6" r="2.45"/><circle cx="697.7" cy="1121.3" r="2.45"/><circle cx="683.5" cy="1129.9" r="2.45"/><circle cx="701" cy="1130.3" r="2.45"/><circle cx="702.5" cy="1134.6" r="2.45"/><circle cx="698.2" cy="1137.9" r="2.45"/><circle cx="691.6" cy="1142.2" r="2.45"/><circle cx="662.1" cy="1135.6" r="2.45"/><circle cx="649.3" cy="1154.1" r="2.45"/><circle cx="703" cy="1155" r="2.45"/><circle cx="674.5" cy="1158.3" r="2.45"/><circle cx="673" cy="1163.1" r="2.45"/><circle cx="645" cy="1165.9" r="2.45"/><circle cx="670.7" cy="1184.5" r="2.45"/><circle cx="599.9" cy="1141.9" r="2.45"/><circle cx="616" cy="1138.6" r="2.45"/><circle cx="625.9" cy="1134.2" r="2.45"/><circle cx="627.9" cy="1137.8" r="2.45"/><circle cx="588.5" cy="1151.9" r="2.45"/><circle cx="583" cy="1157.1" r="2.45"/><circle cx="601.8" cy="1150.8" r="2.45"/><circle cx="612.1" cy="1146.1" r="2.45"/><circle cx="611" cy="1148.3" r="2.45"/><circle cx="619" cy="1151.3" r="2.45"/><circle cx="618.7" cy="1156.3" r="2.45"/><circle cx="633.7" cy="1153.8" r="2.45"/><circle cx="594.1" cy="1157.7" r="2.45"/><circle cx="589.7" cy="1156.6" r="2.45"/><circle cx="601" cy="1159.9" r="2.45"/><circle cx="609.9" cy="1156" r="2.45"/><circle cx="608.8" cy="1160.5" r="2.45"/><circle cx="607.7" cy="1164.9" r="2.45"/><circle cx="594.4" cy="1162.7" r="2.45"/><circle cx="634.5" cy="1162.9" r="2.45"/><circle cx="625.9" cy="1167.7" r="2.45"/><circle cx="632" cy="1167.7" r="2.45"/><circle cx="637.8" cy="1172.9" r="2.45"/><circle cx="602.1" cy="1168.8" r="2.45"/><circle cx="605.4" cy="1168.2" r="2.45"/><circle cx="611" cy="1172.6" r="2.45"/><circle cx="604.6" cy="1176" r="2.45"/><circle cx="604.3" cy="1178.7" r="2.45"/><circle cx="614.9" cy="1179.8" r="2.45"/><circle cx="611" cy="1183.7" r="2.45"/><circle cx="601.6" cy="1182" r="2.45"/><circle cx="601.6" cy="1185.9" r="2.45"/><circle cx="635.3" cy="1182" r="2.45"/><circle cx="633.1" cy="1184" r="2.45"/><circle cx="594.9" cy="1186.5" r="2.45"/></g>
<path d="M566.8 882.7V1200.7H893.3" stroke="#000" stroke-width="1.8" fill="none" stroke-linecap="square"/>
<path d="M581.4 1200.7v6.8M680.2 1200.7v6.8M779 1200.7v6.8M877.8 1200.7v6.8M566.8 1186.5h-6.5M566.8 1138.37h-6.5M566.8 1090.23h-6.5M566.8 1042.1h-6.5M566.8 993.96h-6.5M566.8 945.83h-6.5M566.8 897.69h-6.5" stroke="#000" stroke-width="1.6"/>
<text x="581.4" y="1230.1" font-size="19.5" fill="#000" text-anchor="middle">0</text>
<text x="680.2" y="1230.1" font-size="19.5" fill="#000" text-anchor="middle">1</text>
<text x="779" y="1230.1" font-size="19.5" fill="#000" text-anchor="middle">2</text>
<text x="877.8" y="1230.1" font-size="19.5" fill="#000" text-anchor="middle">3</text>
<text x="551.5" y="1193.7" font-size="19.5" fill="#000" text-anchor="end">0.0</text>
<text x="551.5" y="1145.57" font-size="19.5" fill="#000" text-anchor="end">0.5</text>
<text x="551.5" y="1097.43" font-size="19.5" fill="#000" text-anchor="end">1.0</text>
<text x="551.5" y="1049.3" font-size="19.5" fill="#000" text-anchor="end">1.5</text>
<text x="551.5" y="1001.16" font-size="19.5" fill="#000" text-anchor="end">2.0</text>
<text x="551.5" y="953.03" font-size="19.5" fill="#000" text-anchor="end">2.5</text>
<text x="551.5" y="904.89" font-size="19.5" fill="#000" text-anchor="end">3.0</text>
<text x="730.05" y="871.8" font-size="19.5" fill="#000" text-anchor="middle">Pearson's r: 0.91</text>
<text x="730.05" y="1256.9" font-size="19.5" text-anchor="middle">−log<tspan font-size="13.5" dy="5">10</tspan><tspan dy="-5">(</tspan><tspan font-style="italic">p</tspan>) in TMS FACS</text>
<text x="507" y="1041.7" font-size="19.5" text-anchor="middle" transform="rotate(-90 507 1041.7)">−log<tspan font-size="13.5" dy="5">10</tspan><tspan dy="-5">(</tspan><tspan font-style="italic">p</tspan>) in TMS droplet</text>
<g fill="#2a70a8" fill-opacity="0.5" stroke="#34587c" stroke-opacity="0.62" stroke-width="1.1"><circle cx="1518.9" cy="897.65" r="2.45"/><circle cx="1638.93" cy="897.65" r="2.45"/><circle cx="1748.84" cy="897.65" r="2.45"/><circle cx="1760.84" cy="897.65" r="2.45"/><circle cx="1778.84" cy="897.65" r="2.45"/><circle cx="1808.1" cy="897.65" r="2.45"/><circle cx="1808.1" cy="897.65" r="2.45"/><circle cx="1808.1" cy="897.65" r="2.45"/><circle cx="1633.31" cy="926.53" r="2.45"/><circle cx="1808.1" cy="943.79" r="2.45"/><circle cx="1808.1" cy="943.79" r="2.45"/><circle cx="1808.1" cy="955.42" r="2.45"/><circle cx="1622.43" cy="955.42" r="2.45"/><circle cx="1511.4" cy="964.79" r="2.45"/><circle cx="1604.43" cy="964.79" r="2.45"/><circle cx="1628.43" cy="964.79" r="2.45"/><circle cx="1518.15" cy="972.3" r="2.45"/><circle cx="1705.33" cy="972.3" r="2.45"/><circle cx="1808.1" cy="972.3" r="2.45"/><circle cx="1808.1" cy="972.3" r="2.45"/><circle cx="1530.91" cy="979.05" r="2.45"/><circle cx="1808.1" cy="979.05" r="2.45"/><circle cx="1686.57" cy="1001.55" r="2.45"/><circle cx="1739.46" cy="1004.93" r="2.45"/><circle cx="1511.78" cy="1020.68" r="2.45"/><circle cx="1714.33" cy="1020.68" r="2.45"/><circle cx="1760.84" cy="1022.93" r="2.45"/><circle cx="1539.53" cy="1028.56" r="2.45"/><circle cx="1748.46" cy="1030.44" r="2.45"/><circle cx="1609.3" cy="1033.81" r="2.45"/><circle cx="1618.68" cy="1038.31" r="2.45"/><circle cx="1628.43" cy="1037.19" r="2.45"/><circle cx="1626.93" cy="1043.94" r="2.45"/><circle cx="1524.16" cy="1040.94" r="2.45"/><circle cx="1530.91" cy="1040.94" r="2.45"/><circle cx="1599.17" cy="1042.81" r="2.45"/><circle cx="1521.53" cy="1054.82" r="2.45"/><circle cx="1523.78" cy="1061.19" r="2.45"/><circle cx="1514.78" cy="1066.07" r="2.45"/><circle cx="1518.15" cy="1063.82" r="2.45"/><circle cx="1620.93" cy="1054.82" r="2.45"/><circle cx="1654.69" cy="1056.69" r="2.45"/><circle cx="1695.2" cy="1060.07" r="2.45"/><circle cx="1778.47" cy="1057.44" r="2.45"/><circle cx="1808.1" cy="1047.69" r="2.45"/><circle cx="1808.1" cy="1050.69" r="2.45"/><circle cx="1808.1" cy="1061.19" r="2.45"/><circle cx="1519.28" cy="1073.95" r="2.45"/><circle cx="1520.41" cy="1073.95" r="2.45"/><circle cx="1656.94" cy="1074.7" r="2.45"/><circle cx="1808.1" cy="1073.57" r="2.45"/><circle cx="1592.42" cy="1078.82" r="2.45"/><circle cx="1514.03" cy="1087.07" r="2.45"/><circle cx="1515.9" cy="1091.2" r="2.45"/><circle cx="1540.29" cy="1086.7" r="2.45"/><circle cx="1808.1" cy="1088.2" r="2.45"/><circle cx="1527.16" cy="1096.83" r="2.45"/><circle cx="1621.68" cy="1111.46" r="2.45"/><circle cx="1778.47" cy="1106.2" r="2.45"/><circle cx="1604.8" cy="1127.96" r="2.45"/><circle cx="1808.1" cy="1124.58" r="2.45"/><circle cx="1603.68" cy="1139.59" r="2.45"/><circle cx="1626.93" cy="1137.34" r="2.45"/><circle cx="1631.43" cy="1137.34" r="2.45"/><circle cx="1626.93" cy="1142.96" r="2.45"/><circle cx="1632.18" cy="1138.84" r="2.45"/><circle cx="1686.57" cy="1138.46" r="2.45"/><circle cx="1808.1" cy="1135.09" r="2.45"/><circle cx="1808.1" cy="1137.71" r="2.45"/><circle cx="1808.1" cy="1139.96" r="2.45"/><circle cx="1730.46" cy="1153.84" r="2.45"/><circle cx="1808.1" cy="1156.84" r="2.45"/><circle cx="1670.07" cy="1166.59" r="2.45"/><circle cx="1666.69" cy="1170.72" r="2.45"/><circle cx="1601.05" cy="1176.35" r="2.45"/><circle cx="1617.55" cy="1174.1" r="2.45"/><circle cx="1610.8" cy="1178.22" r="2.45"/><circle cx="1613.8" cy="1178.6" r="2.45"/><circle cx="1709.45" cy="1175.6" r="2.45"/><circle cx="1724.83" cy="1178.22" r="2.45"/><circle cx="1681.7" cy="1180.1" r="2.45"/><circle cx="1632.18" cy="1184.6" r="2.45"/><circle cx="1642.31" cy="1182.35" r="2.45"/><circle cx="1512.3" cy="1102" r="2.45"/><circle cx="1531.6" cy="1109.9" r="2.45"/><circle cx="1575.2" cy="1106.7" r="2.45"/><circle cx="1515.4" cy="1121.4" r="2.45"/><circle cx="1517" cy="1126.5" r="2.45"/><circle cx="1524.1" cy="1122.2" r="2.45"/><circle cx="1546.3" cy="1127.7" r="2.45"/><circle cx="1594.9" cy="1136.8" r="2.45"/><circle cx="1516.2" cy="1138.4" r="2.45"/><circle cx="1541.1" cy="1137.2" r="2.45"/><circle cx="1544.7" cy="1142.7" r="2.45"/><circle cx="1576.7" cy="1149.8" r="2.45"/><circle cx="1513.1" cy="1141.9" r="2.45"/><circle cx="1514.2" cy="1145.9" r="2.45"/><circle cx="1511.9" cy="1149" r="2.45"/><circle cx="1515.8" cy="1149.8" r="2.45"/><circle cx="1521" cy="1154.6" r="2.45"/><circle cx="1512.3" cy="1156.2" r="2.45"/><circle cx="1532" cy="1152.6" r="2.45"/><circle cx="1535.2" cy="1160.5" r="2.45"/><circle cx="1545.5" cy="1161.7" r="2.45"/><circle cx="1518.6" cy="1162.5" r="2.45"/><circle cx="1512.7" cy="1164.1" r="2.45"/><circle cx="1524.9" cy="1164.9" r="2.45"/><circle cx="1525.3" cy="1168" r="2.45"/><circle cx="1512.7" cy="1168.8" r="2.45"/><circle cx="1518.2" cy="1169.6" r="2.45"/><circle cx="1564.9" cy="1168.8" r="2.45"/><circle cx="1564.1" cy="1172.8" r="2.45"/><circle cx="1513.4" cy="1173.6" r="2.45"/><circle cx="1526.9" cy="1173.6" r="2.45"/><circle cx="1531.6" cy="1175.2" r="2.45"/><circle cx="1538" cy="1174.4" r="2.45"/><circle cx="1518.2" cy="1176.7" r="2.45"/><circle cx="1522.2" cy="1179.1" r="2.45"/><circle cx="1530.1" cy="1179.1" r="2.45"/><circle cx="1539.6" cy="1179.1" r="2.45"/><circle cx="1541.1" cy="1181.5" r="2.45"/><circle cx="1513.4" cy="1183.9" r="2.45"/><circle cx="1513.4" cy="1187" r="2.45"/><circle cx="1511.1" cy="1185.4" r="2.45"/><circle cx="1515.8" cy="1185.4" r="2.45"/><circle cx="1523.7" cy="1184.7" r="2.45"/><circle cx="1525.3" cy="1187" r="2.45"/><circle cx="1528.5" cy="1183.9" r="2.45"/><circle cx="1533.2" cy="1185.4" r="2.45"/><circle cx="1535.6" cy="1182.3" r="2.45"/><circle cx="1551.4" cy="1185" r="2.45"/><circle cx="1563.3" cy="1185" r="2.45"/><circle cx="1568.4" cy="1185.4" r="2.45"/><circle cx="1596.5" cy="1185" r="2.45"/><circle cx="1510.3" cy="1167.2" r="2.45"/><circle cx="1511.1" cy="1171.2" r="2.45"/><circle cx="1511.9" cy="1177.5" r="2.45"/><circle cx="1515" cy="1180.7" r="2.45"/><circle cx="1520.6" cy="1182.3" r="2.45"/><circle cx="1526.1" cy="1183.1" r="2.45"/><circle cx="1509.9" cy="1187.8" r="2.45"/><circle cx="1514.2" cy="1188.6" r="2.45"/><circle cx="1519" cy="1187" r="2.45"/><circle cx="1512.7" cy="1160.1" r="2.45"/><circle cx="1510.3" cy="1155.4" r="2.45"/><circle cx="1512" cy="1179" r="2.45"/><circle cx="1516" cy="1175" r="2.45"/><circle cx="1520" cy="1177" r="2.45"/><circle cx="1514" cy="1182" r="2.45"/><circle cx="1518" cy="1184" r="2.45"/><circle cx="1522" cy="1186" r="2.45"/><circle cx="1511.5" cy="1181" r="2.45"/><circle cx="1516" cy="1178.5" r="2.45"/></g>
<path d="M1496.8 882.7V1200.7H1823.3" stroke="#000" stroke-width="1.8" fill="none" stroke-linecap="square"/>
<path d="M1511.4 1200.7v6.8M1610.2 1200.7v6.8M1709 1200.7v6.8M1807.8 1200.7v6.8M1496.8 1186.5h-6.5M1496.8 1138.37h-6.5M1496.8 1090.23h-6.5M1496.8 1042.1h-6.5M1496.8 993.96h-6.5M1496.8 945.83h-6.5M1496.8 897.69h-6.5" stroke="#000" stroke-width="1.6"/>
<text x="1511.4" y="1230.1" font-size="19.5" fill="#000" text-anchor="middle">0</text>
<text x="1610.2" y="1230.1" font-size="19.5" fill="#000" text-anchor="middle">1</text>
<text x="1709" y="1230.1" font-size="19.5" fill="#000" text-anchor="middle">2</text>
<text x="1807.8" y="1230.1" font-size="19.5" fill="#000" text-anchor="middle">3</text>
<text x="1481.5" y="1193.7" font-size="19.5" fill="#000" text-anchor="end">0.0</text>
<text x="1481.5" y="1145.57" font-size="19.5" fill="#000" text-anchor="end">0.5</text>
<text x="1481.5" y="1097.43" font-size="19.5" fill="#000" text-anchor="end">1.0</text>
<text x="1481.5" y="1049.3" font-size="19.5" fill="#000" text-anchor="end">1.5</text>
<text x="1481.5" y="1001.16" font-size="19.5" fill="#000" text-anchor="end">2.0</text>
<text x="1481.5" y="953.03" font-size="19.5" fill="#000" text-anchor="end">2.5</text>
<text x="1481.5" y="904.89" font-size="19.5" fill="#000" text-anchor="end">3.0</text>
<text x="1660.05" y="871.8" font-size="19.5" fill="#000" text-anchor="middle">Pearson's r: 0.631</text>
<text x="1660.05" y="1256.9" font-size="19.5" text-anchor="middle">−log<tspan font-size="13.5" dy="5">10</tspan><tspan dy="-5">(</tspan><tspan font-style="italic">p</tspan>) in TMS FACS</text>
<text x="1437" y="1041.7" font-size="19.5" text-anchor="middle" transform="rotate(-90 1437 1041.7)">−log<tspan font-size="13.5" dy="5">10</tspan><tspan dy="-5">(</tspan><tspan font-style="italic">p</tspan>) in TS FACS</text>
<text x="32.2" y="1224.1" font-size="26.9" fill="#000" text-anchor="start">TMS FACS</text>
<text x="201" y="1222" font-size="26.9" fill="#000" text-anchor="start">TMS droplet</text>
<clipPath id="clipd"><circle cx="161.5" cy="1037.85" r="150"/></clipPath>
<circle cx="161.5" cy="1037.85" r="150" fill="#fd9999"/>
<circle cx="201.65" cy="1037.85" r="147.6" fill="#a8cca1"/>
<circle cx="201.65" cy="1037.85" r="147.6" fill="#e2bfa0" clip-path="url(#clipd)"/>
<text x="32" y="1043.7" font-size="21.8" fill="#000" text-anchor="middle">7</text>
<text x="181.2" y="1043.7" font-size="21.8" fill="#000" text-anchor="middle">31</text>
<text x="330" y="1043.7" font-size="21.8" fill="#000" text-anchor="middle">6</text>
<circle cx="161.5" cy="1037.85" r="150" fill="none" stroke="#000" stroke-width="4.2"/>
<circle cx="201.65" cy="1037.85" r="147.6" fill="none" stroke="#000" stroke-width="4.2"/>
<text x="1011" y="1215.9" font-size="26.9" fill="#000" text-anchor="start">TMS FACS</text>
<text x="1230.3" y="1166" font-size="26.9" fill="#000" text-anchor="start">TS FACS</text>
<clipPath id="clipf"><circle cx="1139.7" cy="1032.4" r="149.7"/></clipPath>
<circle cx="1139.7" cy="1032.4" r="149.7" fill="#fd9999"/>
<circle cx="1230.9" cy="1032.6" r="99.3" fill="#a8cca1"/>
<circle cx="1230.9" cy="1032.6" r="99.3" fill="#e2bfa0" clip-path="url(#clipf)"/>
<text x="1059.8" y="1039.8" font-size="21.8" fill="#000" text-anchor="middle">22</text>
<text x="1209.7" y="1039.8" font-size="21.8" fill="#000" text-anchor="middle">12</text>
<text x="1309.6" y="1039.8" font-size="21.8" fill="#000" text-anchor="middle">3</text>
<circle cx="1139.7" cy="1032.4" r="149.7" fill="none" stroke="#000" stroke-width="4.2"/>
<circle cx="1230.9" cy="1032.6" r="99.3" fill="none" stroke="#000" stroke-width="4.2"/>
<text x="140.2" y="31.9" font-family="Carlito, 'Liberation Sans', sans-serif" font-weight="bold" font-size="41">a</text>
<text x="716.6" y="32.2" font-family="Carlito, 'Liberation Sans', sans-serif" font-weight="bold" font-size="41">b</text>
<text x="1333.2" y="31.9" font-family="Carlito, 'Liberation Sans', sans-serif" font-weight="bold" font-size="41">c</text>
<text x="28.8" y="834.2" font-family="Carlito, 'Liberation Sans', sans-serif" font-weight="bold" font-size="41">d</text>
<text x="485.7" y="834.3" font-family="Carlito, 'Liberation Sans', sans-serif" font-weight="bold" font-size="41">e</text>
<text x="1008.3" y="834.2" font-family="Carlito, 'Liberation Sans', sans-serif" font-weight="bold" font-size="41">f</text>
<text x="1444" y="834.2" font-family="Carlito, 'Liberation Sans', sans-serif" font-weight="bold" font-size="41">g</text>
</svg>
</body></html>
